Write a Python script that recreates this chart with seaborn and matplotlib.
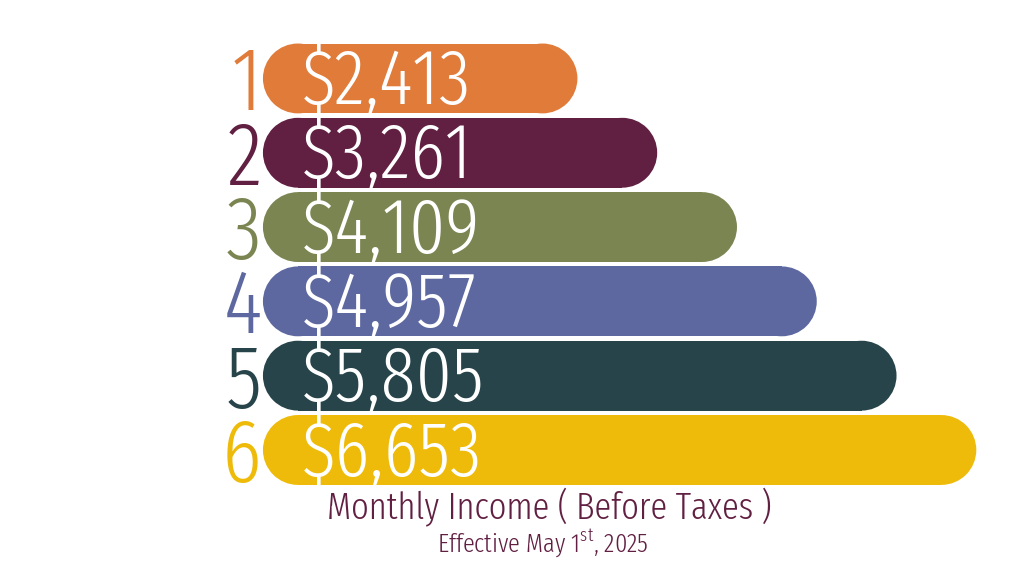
import matplotlib
matplotlib.use("Agg")
import matplotlib.pyplot as plt
from matplotlib.patches import Ellipse
import pandas as pd
import seaborn as sns

household_size = ["1", "2", "3", "4", "5", "6"]
monthly_income = [2413, 3261, 4109, 4957, 5805, 6653]
income_labels = ["$2,413", "$3,261", "$4,109", "$4,957", "$5,805", "$6,653"]
bar_colors = ["#E07B3A", "#611F42", "#7A8552", "#5E68A0", "#26444A", "#EEBB0A"]

df = pd.DataFrame({"size": household_size, "income": monthly_income})

sns.set_theme(style="white")
plt.rcParams["font.family"] = ["Fira Sans Extra Condensed", "DejaVu Sans"]

fig = plt.figure(figsize=(10.24, 5.76), dpi=100)
ax_h = 0.774
ax = fig.add_axes([0, 0.1543, 1, ax_h])

sns.barplot(data=df, y="size", x="income", hue="size", palette=bar_colors,
            saturation=1, orient="h", width=0.94, legend=False, ax=ax)

bar_start = -930  # bars begin a little left of zero, like the poster
x_lo, x_hi = -3725, 7160
ax.set_xlim(x_lo, x_hi)
ax.set_ylim(5.5, -0.5)
ax.axis("off")

# round both ends of every bar (pill shape)
x_per_px = (x_hi - x_lo) / 1024
y_per_px = 6 / (ax_h * 576)
for patch in list(ax.patches):
    y0, h, w = patch.get_y(), patch.get_height(), patch.get_width()
    color = patch.get_facecolor()
    rx = h / y_per_px / 2 * x_per_px
    patch.set_x(bar_start + rx)
    patch.set_width(w - bar_start - 2 * rx)
    patch.set_edgecolor("none")
    for cx in (bar_start + rx, w - rx):
        ax.add_patch(Ellipse((cx, y0 + h / 2), 2 * rx, h, facecolor=color,
                             edgecolor="none"))

for i, (lab, col) in enumerate(zip(income_labels, bar_colors)):
    ax.annotate(lab, xy=(bar_start, i), xytext=(28, 3), textcoords="offset points",
                ha="left", va="center_baseline", fontsize=56, fontweight=300,
                color="white")
    ax.annotate(household_size[i], xy=(bar_start, i), xytext=(-1, 1),
                textcoords="offset points", ha="right", va="center_baseline",
                fontsize=64, fontweight=300, color=col)

fig.text(0.536, 0.12, "Monthly Income ( Before Taxes )", ha="center", va="center",
         fontsize=27, fontweight=300, color="#611F42")
fig.text(0.530, 0.057, r"Effective May 1$^{\mathregular{st}}$, 2025", ha="center",
         va="center", fontsize=19, fontweight=300, color="#611F42")

fig.savefig("out.png", dpi=100)
